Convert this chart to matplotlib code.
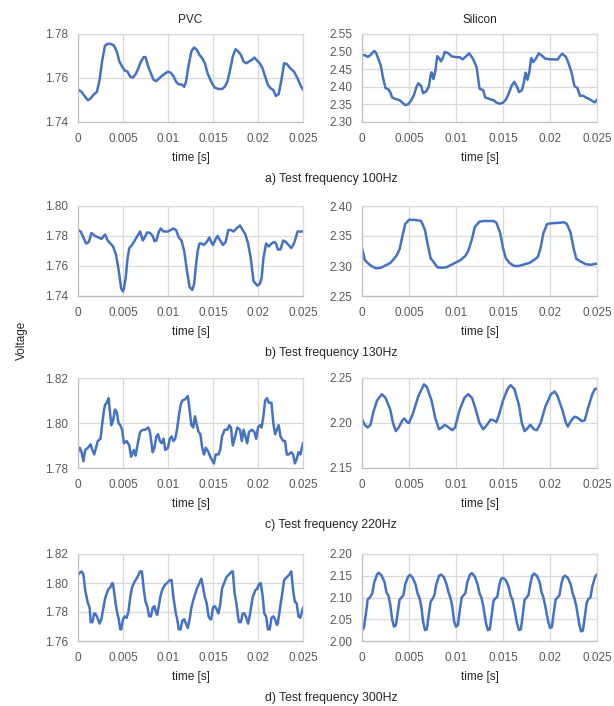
import matplotlib.pyplot as plt

plt.rcParams['font.family'] = ['Liberation Sans', 'DejaVu Sans']

pvc_100 = [
    (0.0000, 1.7548), (0.0004, 1.7537), (0.0008, 1.7514), (0.0011, 1.7499), (0.0014, 1.7507),
    (0.0018, 1.7527), (0.0021, 1.7537), (0.0024, 1.7591), (0.0027, 1.7682), (0.0030, 1.7747),
    (0.0033, 1.7756), (0.0037, 1.7754), (0.0040, 1.7747), (0.0043, 1.7721), (0.0046, 1.7675),
    (0.0049, 1.7652), (0.0052, 1.7634), (0.0055, 1.7629), (0.0058, 1.7606), (0.0061, 1.7602),
    (0.0064, 1.7617), (0.0067, 1.7644), (0.0070, 1.7675), (0.0073, 1.7695), (0.0075, 1.7695),
    (0.0078, 1.7652), (0.0081, 1.7621), (0.0084, 1.7591), (0.0087, 1.7586), (0.0090, 1.7598),
    (0.0093, 1.7609), (0.0096, 1.7618), (0.0100, 1.7629), (0.0103, 1.7624), (0.0106, 1.7609),
    (0.0109, 1.7583), (0.0112, 1.7571), (0.0115, 1.7571), (0.0118, 1.7560), (0.0120, 1.7583),
    (0.0123, 1.7660), (0.0126, 1.7721), (0.0129, 1.7739), (0.0132, 1.7728), (0.0135, 1.7705),
    (0.0138, 1.7690), (0.0141, 1.7667), (0.0144, 1.7621), (0.0148, 1.7583), (0.0152, 1.7556),
    (0.0156, 1.7550), (0.0160, 1.7550), (0.0163, 1.7560), (0.0166, 1.7583), (0.0169, 1.7637),
    (0.0172, 1.7698), (0.0175, 1.7731), (0.0178, 1.7721), (0.0181, 1.7705), (0.0184, 1.7675),
    (0.0187, 1.7667), (0.0190, 1.7675), (0.0193, 1.7682), (0.0196, 1.7693), (0.0199, 1.7679),
    (0.0202, 1.7667), (0.0205, 1.7644), (0.0208, 1.7606), (0.0211, 1.7568), (0.0214, 1.7553),
    (0.0217, 1.7545), (0.0220, 1.7518), (0.0223, 1.7527), (0.0226, 1.7591), (0.0229, 1.7667),
    (0.0232, 1.7664), (0.0236, 1.7644), (0.0240, 1.7629), (0.0244, 1.7598), (0.0248, 1.7560),
    (0.0250, 1.7548),
]

sil_100 = [
    (0.0000, 2.490), (0.0003, 2.490), (0.0006, 2.485), (0.0009, 2.490), (0.0013, 2.502),
    (0.0015, 2.496), (0.0018, 2.475), (0.0020, 2.460), (0.0022, 2.430), (0.0025, 2.396),
    (0.0028, 2.393), (0.0030, 2.385), (0.0032, 2.370), (0.0035, 2.366), (0.0040, 2.362),
    (0.0043, 2.355), (0.0046, 2.348), (0.0049, 2.350), (0.0052, 2.360), (0.0055, 2.375),
    (0.0058, 2.400), (0.0060, 2.410), (0.0063, 2.402), (0.0065, 2.382), (0.0068, 2.386),
    (0.0071, 2.400), (0.0073, 2.432), (0.0074, 2.441), (0.0076, 2.422), (0.0078, 2.445),
    (0.0080, 2.487), (0.0082, 2.482), (0.0084, 2.472), (0.0086, 2.482), (0.0088, 2.499),
    (0.0092, 2.495), (0.0095, 2.487), (0.0100, 2.484), (0.0104, 2.484), (0.0107, 2.478),
    (0.0110, 2.485), (0.0114, 2.495), (0.0118, 2.480), (0.0122, 2.455), (0.0125, 2.395),
    (0.0129, 2.390), (0.0131, 2.370), (0.0135, 2.366), (0.0140, 2.362), (0.0143, 2.355),
    (0.0147, 2.352), (0.0150, 2.355), (0.0153, 2.363), (0.0156, 2.380), (0.0159, 2.402),
    (0.0162, 2.414), (0.0165, 2.400), (0.0167, 2.385), (0.0170, 2.390), (0.0172, 2.410),
    (0.0174, 2.440), (0.0176, 2.420), (0.0178, 2.442), (0.0180, 2.482), (0.0182, 2.470),
    (0.0185, 2.480), (0.0188, 2.495), (0.0192, 2.487), (0.0195, 2.480), (0.0200, 2.478),
    (0.0205, 2.478), (0.0208, 2.477), (0.0210, 2.485), (0.0213, 2.494), (0.0217, 2.485),
    (0.0220, 2.465), (0.0223, 2.440), (0.0226, 2.402), (0.0229, 2.397), (0.0232, 2.374),
    (0.0235, 2.375), (0.0238, 2.370), (0.0242, 2.365), (0.0246, 2.358), (0.0248, 2.356),
    (0.0250, 2.363),
]

pvc_130 = [
    (0.0000, 1.784), (0.0003, 1.783), (0.0006, 1.779), (0.0009, 1.775), (0.0012, 1.776),
    (0.0015, 1.782), (0.0019, 1.780), (0.0023, 1.779), (0.0026, 1.778), (0.0030, 1.781),
    (0.0033, 1.777), (0.0036, 1.775), (0.0039, 1.773), (0.0042, 1.768), (0.0045, 1.758),
    (0.0048, 1.745), (0.0050, 1.743), (0.0051, 1.745), (0.0053, 1.752), (0.0055, 1.765),
    (0.0057, 1.772), (0.0060, 1.774), (0.0063, 1.777), (0.0066, 1.780), (0.0069, 1.783),
    (0.0072, 1.777), (0.0074, 1.779), (0.0077, 1.7825), (0.0080, 1.782), (0.0083, 1.780),
    (0.0085, 1.7765), (0.0087, 1.777), (0.0090, 1.783), (0.0092, 1.785), (0.0095, 1.783),
    (0.0100, 1.783), (0.0103, 1.784), (0.0106, 1.785), (0.0109, 1.784), (0.0112, 1.779),
    (0.0115, 1.777), (0.0118, 1.770), (0.0121, 1.757), (0.0124, 1.746), (0.0127, 1.744),
    (0.0129, 1.748), (0.0131, 1.760), (0.0133, 1.770), (0.0135, 1.775), (0.0137, 1.775),
    (0.0140, 1.774), (0.0143, 1.776), (0.0146, 1.779), (0.0148, 1.776), (0.0150, 1.774),
    (0.0153, 1.778), (0.0155, 1.780), (0.0158, 1.777), (0.0161, 1.774), (0.0164, 1.776),
    (0.0167, 1.784), (0.0170, 1.784), (0.0173, 1.783), (0.0176, 1.785), (0.0180, 1.787),
    (0.0183, 1.784), (0.0186, 1.781), (0.0189, 1.775), (0.0192, 1.765), (0.0195, 1.750),
    (0.0199, 1.747), (0.0202, 1.748), (0.0204, 1.752), (0.0206, 1.765), (0.0209, 1.775),
    (0.0212, 1.773), (0.0215, 1.775), (0.0218, 1.776), (0.0220, 1.775), (0.0222, 1.771),
    (0.0225, 1.771), (0.0228, 1.777), (0.0231, 1.776), (0.0234, 1.774), (0.0237, 1.772),
    (0.0240, 1.775), (0.0244, 1.783), (0.0250, 1.783),
]

sil_130 = [
    (0.0000, 2.330), (0.0003, 2.310), (0.0006, 2.305), (0.0010, 2.300), (0.0015, 2.296),
    (0.0020, 2.297), (0.0025, 2.301), (0.0030, 2.305), (0.0033, 2.310), (0.0037, 2.318),
    (0.0040, 2.328), (0.0043, 2.350), (0.0046, 2.370), (0.0050, 2.377), (0.0055, 2.377),
    (0.0060, 2.376), (0.0063, 2.375), (0.0067, 2.360), (0.0070, 2.335), (0.0073, 2.313),
    (0.0077, 2.305), (0.0080, 2.298), (0.0085, 2.297), (0.0090, 2.298), (0.0095, 2.302),
    (0.0100, 2.306), (0.0105, 2.310), (0.0110, 2.317), (0.0113, 2.325), (0.0117, 2.345),
    (0.0120, 2.365), (0.0125, 2.374), (0.0130, 2.375), (0.0135, 2.375), (0.0140, 2.375),
    (0.0143, 2.372), (0.0147, 2.355), (0.0150, 2.330), (0.0153, 2.313), (0.0157, 2.305),
    (0.0162, 2.300), (0.0167, 2.300), (0.0173, 2.303), (0.0178, 2.305), (0.0183, 2.310),
    (0.0187, 2.315), (0.0190, 2.330), (0.0193, 2.355), (0.0197, 2.370), (0.0200, 2.371),
    (0.0210, 2.372), (0.0215, 2.373), (0.0218, 2.370), (0.0222, 2.355), (0.0225, 2.330),
    (0.0228, 2.312), (0.0232, 2.308), (0.0238, 2.303), (0.0243, 2.302), (0.0250, 2.304),
]

pvc_220 = [
    (0.0000, 1.787), (0.0002, 1.789), (0.0004, 1.787), (0.0006, 1.783), (0.0008, 1.788),
    (0.0011, 1.789), (0.0014, 1.7905), (0.0016, 1.788), (0.0018, 1.786), (0.0020, 1.789),
    (0.0022, 1.792), (0.0025, 1.793), (0.0027, 1.800), (0.0029, 1.806), (0.0030, 1.808),
    (0.0032, 1.809), (0.0034, 1.811), (0.0035, 1.807), (0.0037, 1.799), (0.0039, 1.801),
    (0.0041, 1.806), (0.0043, 1.805), (0.0045, 1.800), (0.0047, 1.799), (0.0049, 1.797),
    (0.0051, 1.791), (0.0054, 1.792), (0.0057, 1.790), (0.0059, 1.785), (0.0062, 1.788),
    (0.0064, 1.7855), (0.0066, 1.790), (0.0069, 1.796), (0.0072, 1.797), (0.0075, 1.797),
    (0.0078, 1.798), (0.0080, 1.796), (0.0083, 1.787), (0.0085, 1.789), (0.0087, 1.794),
    (0.0089, 1.795), (0.0091, 1.792), (0.0093, 1.791), (0.0095, 1.793), (0.0097, 1.788),
    (0.0100, 1.789), (0.0102, 1.793), (0.0104, 1.794), (0.0106, 1.792), (0.0108, 1.793),
    (0.0110, 1.797), (0.0112, 1.803), (0.0114, 1.808), (0.0116, 1.810), (0.0119, 1.8105),
    (0.0122, 1.812), (0.0124, 1.806), (0.0126, 1.799), (0.0128, 1.798), (0.0130, 1.803),
    (0.0132, 1.799), (0.0134, 1.796), (0.0136, 1.795), (0.0138, 1.789), (0.0140, 1.786),
    (0.0142, 1.789), (0.0145, 1.787), (0.0147, 1.785), (0.0151, 1.782), (0.0153, 1.786),
    (0.0156, 1.786), (0.0158, 1.788), (0.0160, 1.794), (0.0163, 1.797), (0.0166, 1.797),
    (0.0168, 1.799), (0.0170, 1.798), (0.0172, 1.790), (0.0174, 1.793), (0.0177, 1.798),
    (0.0180, 1.797), (0.0182, 1.792), (0.0184, 1.797), (0.0186, 1.794), (0.0188, 1.791),
    (0.0190, 1.796), (0.0193, 1.797), (0.0196, 1.796), (0.0198, 1.793), (0.0200, 1.798),
    (0.0202, 1.799), (0.0204, 1.798), (0.0206, 1.803), (0.0208, 1.810), (0.0210, 1.811),
    (0.0212, 1.809), (0.0215, 1.809), (0.0217, 1.800), (0.0219, 1.795), (0.0221, 1.797),
    (0.0223, 1.799), (0.0225, 1.794), (0.0228, 1.792), (0.0230, 1.792), (0.0232, 1.786),
    (0.0234, 1.786), (0.0237, 1.787), (0.0239, 1.786), (0.0241, 1.782), (0.0243, 1.784),
    (0.0245, 1.787), (0.0247, 1.786), (0.0250, 1.791),
]

sil_220 = [
    (0.0000, 2.204), (0.0003, 2.198), (0.0006, 2.195), (0.0009, 2.198), (0.0012, 2.212),
    (0.0016, 2.225), (0.0021, 2.232), (0.0025, 2.228), (0.0030, 2.215), (0.0033, 2.200),
    (0.0036, 2.191), (0.0039, 2.195), (0.0043, 2.203), (0.0045, 2.205), (0.0048, 2.201),
    (0.0050, 2.200), (0.0054, 2.210), (0.0060, 2.230), (0.0066, 2.243), (0.0069, 2.240),
    (0.0074, 2.225), (0.0078, 2.205), (0.0082, 2.193), (0.0085, 2.195), (0.0088, 2.198),
    (0.0091, 2.196), (0.0096, 2.192), (0.0099, 2.195), (0.0104, 2.215), (0.0109, 2.228),
    (0.0113, 2.232), (0.0117, 2.228), (0.0121, 2.215), (0.0125, 2.200), (0.0129, 2.193),
    (0.0133, 2.198), (0.0137, 2.204), (0.0140, 2.203), (0.0143, 2.201), (0.0146, 2.210),
    (0.0150, 2.225), (0.0155, 2.238), (0.0158, 2.242), (0.0162, 2.238), (0.0167, 2.220),
    (0.0170, 2.200), (0.0173, 2.191), (0.0176, 2.194), (0.0179, 2.198), (0.0183, 2.193),
    (0.0186, 2.192), (0.0190, 2.200), (0.0195, 2.218), (0.0201, 2.232), (0.0205, 2.235),
    (0.0208, 2.230), (0.0213, 2.215), (0.0217, 2.200), (0.0219, 2.196), (0.0222, 2.202),
    (0.0226, 2.207), (0.0229, 2.206), (0.0234, 2.202), (0.0237, 2.203), (0.0240, 2.215),
    (0.0245, 2.232), (0.0248, 2.238), (0.0250, 2.238),
]

pvc_300 = [
    (0.0000, 1.8055), (0.0002, 1.807), (0.0004, 1.808), (0.0006, 1.806), (0.0008, 1.795),
    (0.0011, 1.786), (0.0013, 1.783), (0.0014, 1.773), (0.0016, 1.773), (0.0018, 1.779),
    (0.0019, 1.779), (0.0021, 1.777), (0.0024, 1.772), (0.0026, 1.775), (0.0028, 1.782),
    (0.0030, 1.789), (0.0032, 1.793), (0.0034, 1.796), (0.0036, 1.797), (0.0038, 1.800),
    (0.0039, 1.799), (0.0041, 1.790), (0.0042, 1.785), (0.0044, 1.778), (0.0045, 1.776),
    (0.0047, 1.768), (0.0048, 1.768), (0.0050, 1.775), (0.0052, 1.777), (0.0054, 1.776),
    (0.0056, 1.780), (0.0058, 1.790), (0.0060, 1.797), (0.0063, 1.801), (0.0066, 1.804),
    (0.0069, 1.808), (0.0071, 1.808), (0.0073, 1.796), (0.0075, 1.787), (0.0077, 1.784),
    (0.0079, 1.777), (0.0081, 1.777), (0.0083, 1.783), (0.0085, 1.784), (0.0086, 1.781),
    (0.0088, 1.778), (0.0090, 1.785), (0.0092, 1.792), (0.0094, 1.796), (0.0097, 1.799),
    (0.0099, 1.800), (0.0102, 1.802), (0.0104, 1.802), (0.0106, 1.790), (0.0109, 1.778),
    (0.0110, 1.776), (0.0112, 1.768), (0.0114, 1.768), (0.0116, 1.774), (0.0118, 1.775),
    (0.0120, 1.772), (0.0122, 1.769), (0.0124, 1.775), (0.0126, 1.783), (0.0128, 1.788),
    (0.0130, 1.792), (0.0132, 1.796), (0.0135, 1.800), (0.0137, 1.803), (0.0139, 1.797),
    (0.0141, 1.790), (0.0143, 1.786), (0.0145, 1.777), (0.0147, 1.775), (0.0148, 1.775),
    (0.0150, 1.783), (0.0152, 1.784), (0.0154, 1.782), (0.0156, 1.779), (0.0158, 1.785),
    (0.0160, 1.796), (0.0163, 1.801), (0.0165, 1.804), (0.0168, 1.806), (0.0171, 1.808),
    (0.0172, 1.808), (0.0174, 1.793), (0.0176, 1.786), (0.0178, 1.776), (0.0179, 1.773),
    (0.0181, 1.773), (0.0183, 1.779), (0.0185, 1.779), (0.0187, 1.776), (0.0189, 1.772),
    (0.0191, 1.778), (0.0194, 1.790), (0.0197, 1.795), (0.0199, 1.796), (0.0201, 1.799),
    (0.0203, 1.800), (0.0205, 1.792), (0.0207, 1.779), (0.0209, 1.777), (0.0211, 1.768),
    (0.0213, 1.768), (0.0215, 1.776), (0.0217, 1.777), (0.0219, 1.775), (0.0221, 1.771),
    (0.0222, 1.772), (0.0225, 1.785), (0.0227, 1.793), (0.0229, 1.802), (0.0232, 1.804),
    (0.0235, 1.806), (0.0237, 1.808), (0.0239, 1.795), (0.0241, 1.787), (0.0243, 1.786),
    (0.0245, 1.777), (0.0247, 1.776), (0.0250, 1.783),
]

sil_300 = [
    (0.0000, 2.025), (0.0002, 2.030), (0.0004, 2.060), (0.0006, 2.095), (0.0009, 2.102),
    (0.0011, 2.110), (0.0013, 2.135), (0.0016, 2.153), (0.0018, 2.157), (0.0021, 2.150),
    (0.0024, 2.135), (0.0026, 2.112), (0.0028, 2.105), (0.0030, 2.085), (0.0032, 2.050),
    (0.0034, 2.033), (0.0036, 2.036), (0.0038, 2.065), (0.0040, 2.095), (0.0042, 2.100),
    (0.0044, 2.105), (0.0046, 2.130), (0.0049, 2.148), (0.0051, 2.152), (0.0054, 2.145),
    (0.0057, 2.130), (0.0059, 2.110), (0.0061, 2.100), (0.0063, 2.080), (0.0065, 2.045),
    (0.0067, 2.025), (0.0069, 2.027), (0.0071, 2.060), (0.0073, 2.090), (0.0075, 2.097),
    (0.0077, 2.105), (0.0079, 2.130), (0.0082, 2.150), (0.0084, 2.153), (0.0087, 2.147),
    (0.0090, 2.130), (0.0092, 2.112), (0.0094, 2.100), (0.0096, 2.080), (0.0098, 2.045),
    (0.0100, 2.033), (0.0102, 2.036), (0.0104, 2.070), (0.0106, 2.100), (0.0108, 2.105),
    (0.0110, 2.110), (0.0112, 2.135), (0.0115, 2.153), (0.0117, 2.156), (0.0120, 2.148),
    (0.0123, 2.130), (0.0125, 2.110), (0.0127, 2.100), (0.0129, 2.080), (0.0132, 2.040),
    (0.0134, 2.025), (0.0136, 2.027), (0.0138, 2.060), (0.0140, 2.093), (0.0142, 2.098),
    (0.0144, 2.102), (0.0146, 2.128), (0.0148, 2.143), (0.0150, 2.145), (0.0153, 2.140),
    (0.0156, 2.125), (0.0158, 2.105), (0.0160, 2.095), (0.0162, 2.075), (0.0165, 2.040),
    (0.0167, 2.025), (0.0169, 2.027), (0.0171, 2.060), (0.0173, 2.095), (0.0175, 2.100),
    (0.0177, 2.105), (0.0179, 2.130), (0.0181, 2.150), (0.0183, 2.155), (0.0186, 2.150),
    (0.0189, 2.135), (0.0191, 2.112), (0.0193, 2.100), (0.0195, 2.080), (0.0198, 2.045),
    (0.0200, 2.030), (0.0202, 2.032), (0.0204, 2.065), (0.0206, 2.095), (0.0208, 2.100),
    (0.0210, 2.105), (0.0212, 2.130), (0.0214, 2.147), (0.0216, 2.150), (0.0219, 2.145),
    (0.0222, 2.130), (0.0224, 2.110), (0.0226, 2.098), (0.0228, 2.080), (0.0231, 2.040),
    (0.0233, 2.022), (0.0235, 2.024), (0.0237, 2.055), (0.0239, 2.088), (0.0241, 2.097),
    (0.0243, 2.100), (0.0245, 2.125), (0.0248, 2.148), (0.0250, 2.153),
]

# axis ticks per panel
x_ticks = [0, 0.005, 0.01, 0.015, 0.02, 0.025]
x_labels = ['0', '0.005', '0.01', '0.015', '0.02', '0.025']
pvc_yticks = [
    [1.74, 1.76, 1.78],
    [1.74, 1.76, 1.78, 1.80],
    [1.78, 1.80, 1.82],
    [1.76, 1.78, 1.80, 1.82],
]
sil_yticks = [
    [2.30, 2.35, 2.40, 2.45, 2.50, 2.55],
    [2.25, 2.30, 2.35, 2.40],
    [2.15, 2.20, 2.25],
    [2.00, 2.05, 2.10, 2.15, 2.20],
]
captions = ['a) Test frequency 100Hz', 'b) Test frequency 130Hz',
            'c) Test frequency 220Hz', 'd) Test frequency 300Hz']

pvc_series = [pvc_100, pvc_130, pvc_220, pvc_300]
sil_series = [sil_100, sil_130, sil_220, sil_300]

W, H = 614, 706
fig = plt.figure(figsize=(W / 100, H / 100), dpi=100)

# pixel rows (top, bottom) of each row of plots
rows = [(34, 122), (206, 296), (378, 468), (554, 641)]
cols = [(78, 303), (362, 597)]

line_color = '#4472c4'
grid_color = '#d9d9d9'
tick_color = '#595959'


def style(ax, yticks):
    ax.set_xlim(0, 0.025)
    ax.set_xticks(x_ticks)
    ax.set_xticklabels(x_labels)
    ax.set_ylim(yticks[0], yticks[-1])
    ax.set_yticks(yticks)
    ax.set_yticklabels(['%.2f' % y for y in yticks])
    ax.grid(True, color=grid_color, linewidth=0.9)
    ax.set_axisbelow(True)
    for s in ax.spines.values():
        s.set_color(grid_color)
        s.set_linewidth(0.9)
    ax.spines['bottom'].set_color('#bfbfbf')
    ax.spines['left'].set_color('#bfbfbf')
    ax.tick_params(length=0, labelsize=8.5, labelcolor=tick_color)
    ax.tick_params(axis='x', pad=8)
    ax.tick_params(axis='y', pad=7)
    ax.set_xlabel('time [s]', fontsize=8.5, color='#262626', labelpad=5)


for i, (top, bottom) in enumerate(rows):
    for j, (left, right) in enumerate(cols):
        ax = fig.add_axes([left / W, 1 - bottom / H, (right - left) / W, (bottom - top) / H])
        data = pvc_series[i] if j == 0 else sil_series[i]
        t = [p[0] for p in data]
        v = [p[1] for p in data]
        ax.plot(t, v, color=line_color, linewidth=1.8)
        style(ax, pvc_yticks[i] if j == 0 else sil_yticks[i])
        if i == 0:
            ax.set_title('PVC' if j == 0 else 'Silicon', fontsize=8.5, color='#262626', pad=8)
    fig.text(331 / W, 1 - (bottom + 57) / H, captions[i], fontsize=8.8, color='#262626',
             ha='center', va='center')

fig.text(22 / W, 1 - 340 / H, 'Voltage', rotation=90, fontsize=8.5, color='#262626',
         ha='center', va='center')

plt.savefig('out.png', dpi=100)
